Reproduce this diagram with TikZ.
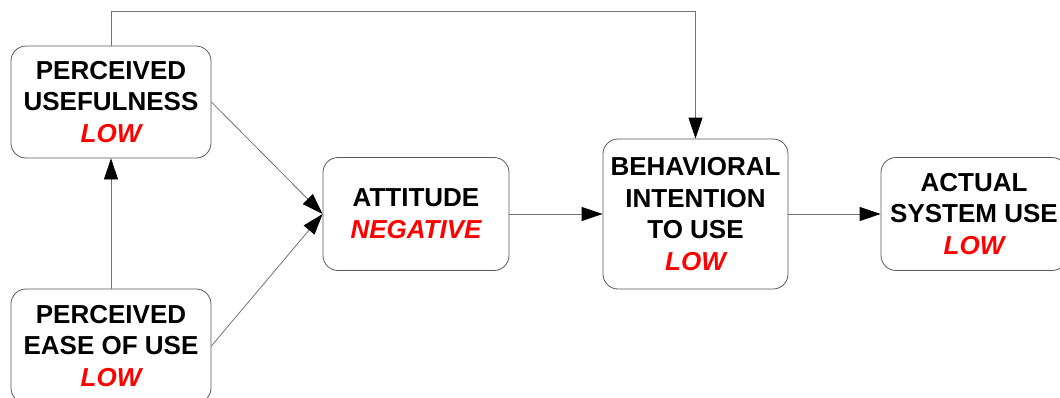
\documentclass[tikz,border=0pt]{standalone}
\usepackage{fontspec}
\setmainfont{Liberation Sans}
\usepackage{tikz}
\usetikzlibrary{arrows.meta}
\newcommand{\level}[1]{{\color{red}\itshape #1}}
\begin{document}
\begin{tikzpicture}[x=1pt,y=-1pt]
	\tikzstyle{every node}+=[inner sep=0pt]
	\tikzstyle{box}=[draw=black!65,line width=0.8pt,rounded corners=15pt,fill=white,align=center,font=\fontsize{26}{31.7}\selectfont\bfseries]
	\tikzstyle{link}=[draw=black!55,line width=0.8pt,-{Triangle[length=21pt,width=14pt,color=black]}]
	\useasboundingbox (0,0) rectangle (1060,397);
	\node [box,minimum width=200pt,minimum height=112pt] (pu) at (111,102) {PERCEIVED\\USEFULNESS\\\level{LOW}};
	\node [box,minimum width=200pt,minimum height=114pt] (peou) at (111,346) {PERCEIVED\\EASE OF USE\\\level{LOW}};
	\node [box,minimum width=186pt,minimum height=113pt] (att) at (416,214) {ATTITUDE\\\level{NEGATIVE}};
	\node [box,minimum width=185pt,minimum height=150pt] (bi) at (695.5,214) {BEHAVIORAL\\INTENTION\\TO USE\\\level{LOW}};
	\node [box,minimum width=186pt,minimum height=113pt] (asu) at (974,214) {ACTUAL\\SYSTEM USE\\\level{LOW}};
	\draw [link] (peou) -- (pu);
	\draw [link] (pu.east) -- (att.west);
	\draw [link] (peou.east) -- (att.west);
	\draw [link] (att) -- (bi);
	\draw [link] (bi) -- (asu);
	\draw [link] (pu.north) -- (111,11) -| (bi.north);
\end{tikzpicture}
\end{document}
